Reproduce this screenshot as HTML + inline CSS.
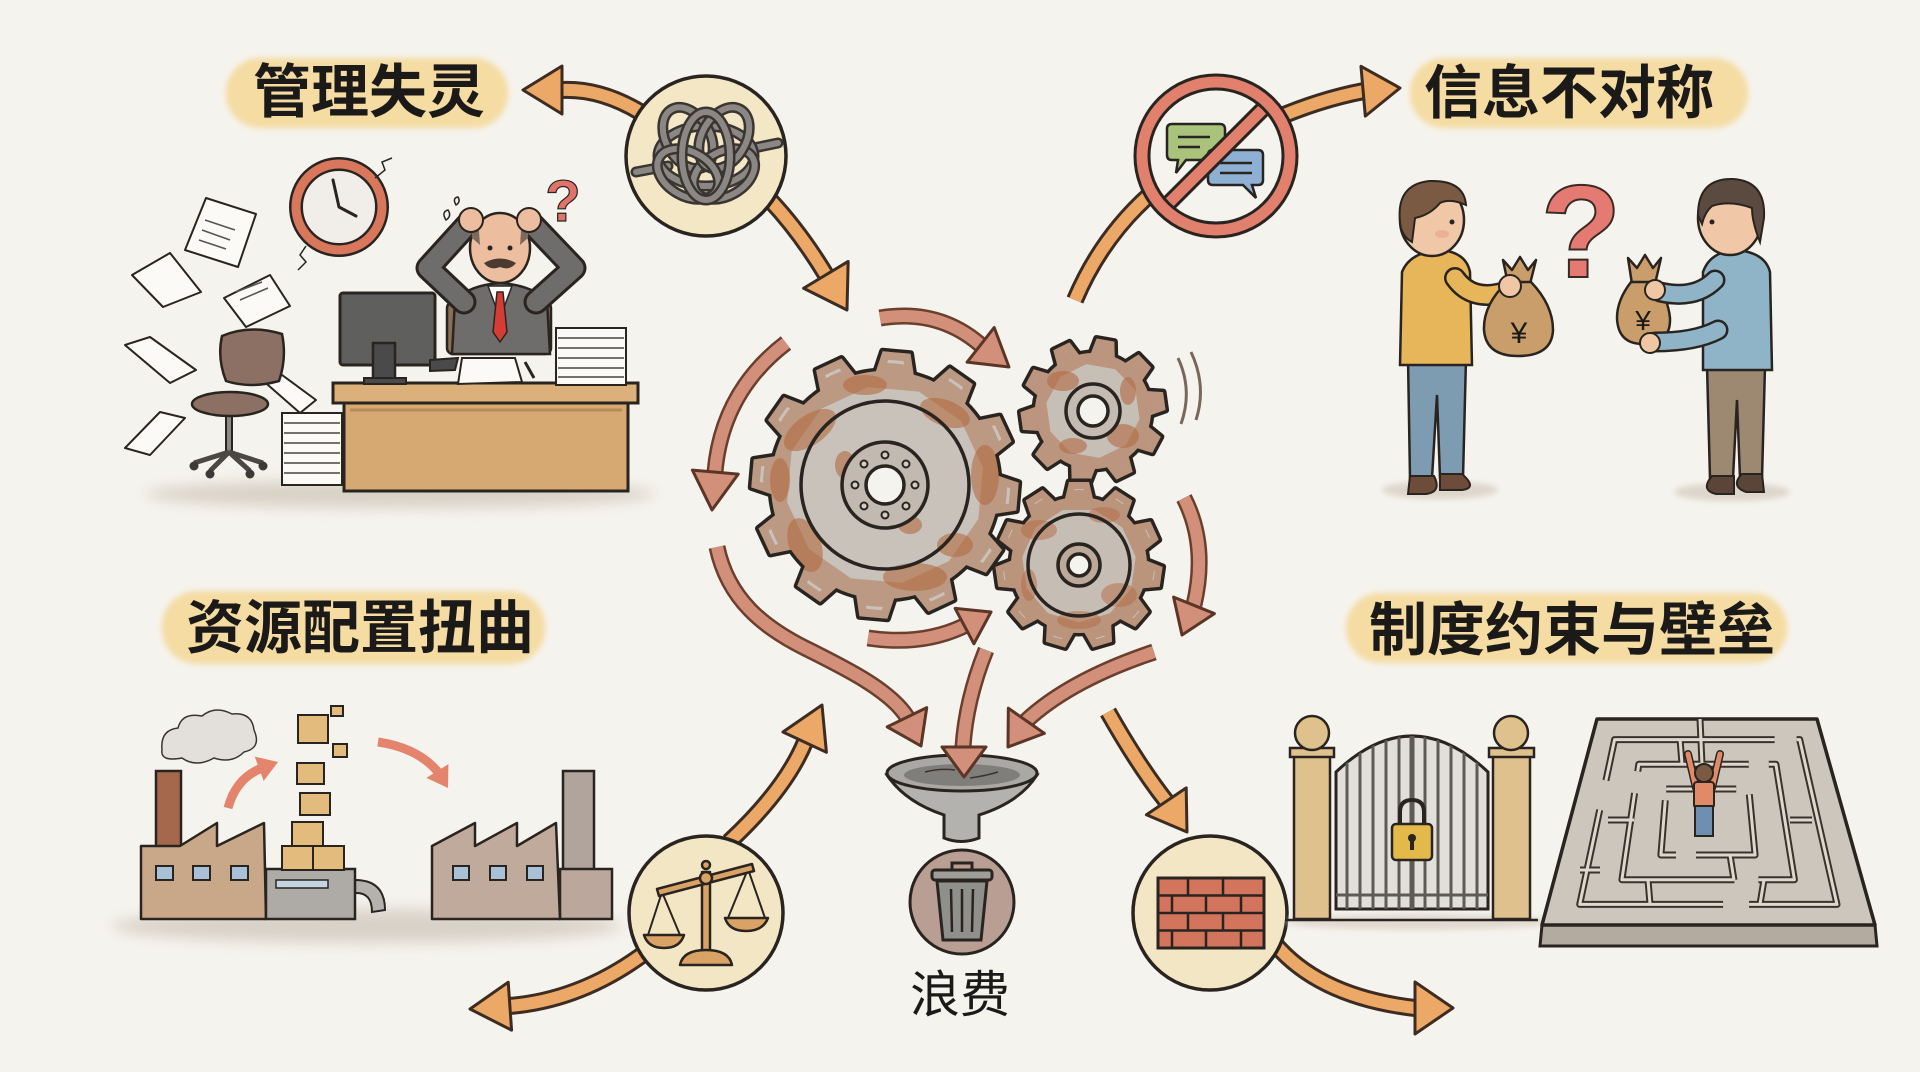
<!DOCTYPE html>
<html><head><meta charset="utf-8"><title>diagram</title>
<style>
html,body{margin:0;padding:0;background:#f5f3ed;overflow:hidden}
svg{display:block}
.t{font-family:"Liberation Sans","Noto Sans CJK SC",sans-serif;font-weight:700;fill:#1b1a18;text-anchor:middle}
</style></head><body>
<svg width="1920" height="1072" viewBox="0 0 1920 1072" xmlns="http://www.w3.org/2000/svg">
<defs>
<filter id="b3" x="-30%" y="-80%" width="160%" height="260%"><feGaussianBlur stdDeviation="3"/></filter>
<filter id="b8" x="-30%" y="-200%" width="160%" height="500%"><feGaussianBlur stdDeviation="7"/></filter>
<path id="tA" d="M-21,-104 L-14,-133 L14,-133 L21,-104 Z"/>
<path id="tB" d="M-13,-52 L-9,-72 L9,-72 L13,-52 Z"/>
<path id="tC" d="M-15,-62 L-10,-83 L10,-83 L15,-62 Z"/>
<g id="gA"><circle r="114"/>
<use href="#tA" transform="rotate(5)"/><use href="#tA" transform="rotate(35)"/><use href="#tA" transform="rotate(65)"/><use href="#tA" transform="rotate(95)"/><use href="#tA" transform="rotate(125)"/><use href="#tA" transform="rotate(155)"/><use href="#tA" transform="rotate(185)"/><use href="#tA" transform="rotate(215)"/><use href="#tA" transform="rotate(245)"/><use href="#tA" transform="rotate(275)"/><use href="#tA" transform="rotate(305)"/><use href="#tA" transform="rotate(335)"/>
</g>
<g id="gB"><circle r="58"/>
<use href="#tB" transform="rotate(10)"/><use href="#tB" transform="rotate(46)"/><use href="#tB" transform="rotate(82)"/><use href="#tB" transform="rotate(118)"/><use href="#tB" transform="rotate(154)"/><use href="#tB" transform="rotate(190)"/><use href="#tB" transform="rotate(226)"/><use href="#tB" transform="rotate(262)"/><use href="#tB" transform="rotate(298)"/><use href="#tB" transform="rotate(334)"/>
</g>
<g id="gC"><circle r="68"/>
<use href="#tC" transform="rotate(0)"/><use href="#tC" transform="rotate(32.7)"/><use href="#tC" transform="rotate(65.5)"/><use href="#tC" transform="rotate(98.2)"/><use href="#tC" transform="rotate(130.9)"/><use href="#tC" transform="rotate(163.6)"/><use href="#tC" transform="rotate(196.4)"/><use href="#tC" transform="rotate(229.1)"/><use href="#tC" transform="rotate(261.8)"/><use href="#tC" transform="rotate(294.5)"/><use href="#tC" transform="rotate(327.3)"/>
</g>
<mask id="mA" maskUnits="userSpaceOnUse" x="-150" y="-150" width="300" height="300"><use href="#gA" fill="#fff"/></mask>
<mask id="mB" maskUnits="userSpaceOnUse" x="-90" y="-90" width="180" height="180"><use href="#gB" fill="#fff"/></mask>
<mask id="mC" maskUnits="userSpaceOnUse" x="-100" y="-100" width="200" height="200"><use href="#gC" fill="#fff"/></mask>
<clipPath id="gateClip"><path d="M1336,909 L1336,772 Q1412,700 1488,772 L1488,909 Z"/></clipPath>
</defs>

<rect width="1920" height="1072" fill="#f5f3ed"/>

<!-- ===== Label pills ===== -->
<g fill="#f4dca3" filter="url(#b3)">
<rect x="226" y="58" width="282" height="70" rx="34"/>
<rect x="1410" y="58" width="338" height="70" rx="34"/>
<rect x="162" y="591" width="383" height="73" rx="35"/>
<rect x="1346" y="593" width="441" height="70" rx="34"/>
</g>
<text class="t" x="369" y="112" font-size="58">管理失灵</text>
<text class="t" x="1569" y="113" font-size="58">信息不对称</text>
<text class="t" x="360" y="648" font-size="58">资源配置扭曲</text>
<text class="t" x="1572" y="650" font-size="58">制度约束与壁垒</text>

<!-- ===== Orange arrows (bands) ===== -->
<g fill="none" stroke-linecap="butt">
<g stroke="#3d2c22" stroke-width="18">
<path d="M640,112 Q600,88 561,90"/>
<path d="M770,200 Q800,232 826,275"/>
<path d="M1075,300 Q1115,205 1210,152 Q1290,105 1364,91"/>
<path d="M729,842 Q785,790 805,742"/>
<path d="M642,955 Q580,1000 510,1006"/>
<path d="M1108,712 Q1138,765 1166,801"/>
<path d="M1275,944 Q1320,997 1415,1008"/>
</g>
<g stroke="#eca866" stroke-width="12">
<path d="M640,112 Q600,88 561,90"/>
<path d="M770,200 Q800,232 826,275"/>
<path d="M1075,300 Q1115,205 1210,152 Q1290,105 1364,91"/>
<path d="M729,842 Q785,790 805,742"/>
<path d="M642,955 Q580,1000 510,1006"/>
<path d="M1108,712 Q1138,765 1166,801"/>
<path d="M1275,944 Q1320,997 1415,1008"/>
</g>
</g>
<g fill="#eca866" stroke="#3d2c22" stroke-width="3" stroke-linejoin="round">
<polygon points="0,0 -39,-24 -39,24" transform="translate(523,90) rotate(180)"/>
<polygon points="0,0 -41,-26 -41,26" transform="translate(847,310) rotate(59)"/>
<polygon points="0,0 -37,-25 -37,25" transform="translate(1400,88) rotate(-5)"/>
<polygon points="0,0 -41,-24 -41,24" transform="translate(822,705) rotate(-65)"/>
<polygon points="0,0 -40,-24 -40,24" transform="translate(470,1009) rotate(176)"/>
<polygon points="0,0 -37,-24 -37,24" transform="translate(1187,832) rotate(56)"/>
<polygon points="0,0 -38,-26 -38,26" transform="translate(1453,1008) rotate(0)"/>
</g>

<!-- ===== Knot circle ===== -->
<circle cx="706" cy="156" r="80" fill="#f3e7c6" stroke="#2a2420" stroke-width="3.5"/>
<g fill="none" stroke-linecap="round">
<path d="M636,172 L668,166" stroke="#3a3530" stroke-width="11"/><path d="M636,172 L668,166" stroke="#8a8784" stroke-width="6"/>
<path d="M744,150 L778,143" stroke="#3a3530" stroke-width="11"/><path d="M744,150 L778,143" stroke="#8a8784" stroke-width="6"/>
<ellipse cx="706" cy="156" rx="48" ry="30" stroke="#3a3530" stroke-width="11"/><ellipse cx="706" cy="156" rx="48" ry="30" stroke="#8a8784" stroke-width="6"/>
<ellipse cx="688" cy="138" rx="22" ry="33" transform="rotate(-30 688 138)" stroke="#3a3530" stroke-width="11"/><ellipse cx="688" cy="138" rx="22" ry="33" transform="rotate(-30 688 138)" stroke="#8a8784" stroke-width="6"/>
<ellipse cx="724" cy="174" rx="33" ry="22" transform="rotate(-30 724 174)" stroke="#3a3530" stroke-width="11"/><ellipse cx="724" cy="174" rx="33" ry="22" transform="rotate(-30 724 174)" stroke="#8a8784" stroke-width="6"/>
<ellipse cx="724" cy="138" rx="22" ry="33" transform="rotate(30 724 138)" stroke="#3a3530" stroke-width="11"/><ellipse cx="724" cy="138" rx="22" ry="33" transform="rotate(30 724 138)" stroke="#8a8784" stroke-width="6"/>
<ellipse cx="688" cy="174" rx="33" ry="22" transform="rotate(30 688 174)" stroke="#3a3530" stroke-width="11"/><ellipse cx="688" cy="174" rx="33" ry="22" transform="rotate(30 688 174)" stroke="#8a8784" stroke-width="6"/>
<ellipse cx="706" cy="156" rx="24" ry="44" stroke="#3a3530" stroke-width="11"/><ellipse cx="706" cy="156" rx="24" ry="44" stroke="#8a8784" stroke-width="6"/>
</g>

<!-- ===== No-communication sign ===== -->
<circle cx="1216" cy="156" r="72" fill="#f5f3ed"/>
<path d="M1172,124 L1220,124 Q1225,124 1225,129 L1225,155 Q1225,160 1220,160 L1186,160 L1176,173 L1178,160 L1172,160 Q1167,160 1167,155 L1167,129 Q1167,124 1172,124 Z" fill="#a9c27c" stroke="#2a2420" stroke-width="2.5"/>
<path d="M1178,137 L1210,137 M1178,147 L1200,147" stroke="#2a2420" stroke-width="2.5"/>
<path d="M1213,150 L1258,150 Q1263,150 1263,155 L1263,180 Q1263,185 1258,185 L1252,185 L1256,198 L1243,185 L1213,185 Q1208,185 1208,180 L1208,155 Q1208,150 1213,150 Z" fill="#8eb0d2" stroke="#2a2420" stroke-width="2.5"/>
<path d="M1220,163 L1252,163 M1220,173 L1252,173" stroke="#2a2420" stroke-width="2.5"/>
<line x1="1266" y1="106" x2="1166" y2="206" stroke="#2a2420" stroke-width="17"/>
<line x1="1266" y1="106" x2="1166" y2="206" stroke="#e2806e" stroke-width="11"/>
<circle cx="1216" cy="156" r="74" fill="none" stroke="#2a2420" stroke-width="17"/>
<circle cx="1216" cy="156" r="74" fill="none" stroke="#e2806e" stroke-width="11"/>

<!-- ===== Gears ===== -->
<g transform="translate(885,485)">
<use href="#gA" fill="#2a2420" stroke="#2a2420" stroke-width="7" stroke-linejoin="round"/>
<use href="#gA" fill="#c8c2ba"/>
<g mask="url(#mA)">
<use href="#gA" fill="none" stroke="#ad6238" stroke-width="16" opacity=".42"/>
<g fill="#b36a42" opacity=".6">
<ellipse cx="-75" cy="-55" rx="30" ry="15" transform="rotate(-35 -75 -55)"/>
<ellipse cx="60" cy="-72" rx="26" ry="13" transform="rotate(20 60 -72)"/>
<ellipse cx="100" cy="-10" rx="14" ry="30"/>
<ellipse cx="-80" cy="60" rx="16" ry="28" transform="rotate(-20 -80 60)"/>
<ellipse cx="30" cy="92" rx="32" ry="14"/>
<ellipse cx="-20" cy="-100" rx="22" ry="10"/>
<ellipse cx="-105" cy="-5" rx="10" ry="22"/>
<ellipse cx="70" cy="60" rx="18" ry="12"/>
<ellipse cx="-40" cy="-20" rx="10" ry="14"/>
<ellipse cx="25" cy="40" rx="12" ry="9"/>
</g>
</g>
<circle r="84" fill="none" stroke="#2a2420" stroke-width="3.5"/>
<circle r="43" fill="#c2bab0" stroke="#2a2420" stroke-width="3.5"/>
<circle r="19" fill="#f5f3ed" stroke="#2a2420" stroke-width="3.5"/>
<g fill="#d3ccc3" stroke="#2a2420" stroke-width="2">
<circle cx="0" cy="-30" r="3.5"/><circle cx="21" cy="-21" r="3.5"/><circle cx="30" cy="0" r="3.5"/><circle cx="21" cy="21" r="3.5"/><circle cx="0" cy="30" r="3.5"/><circle cx="-21" cy="21" r="3.5"/><circle cx="-30" cy="0" r="3.5"/><circle cx="-21" cy="-21" r="3.5"/>
</g>
</g>

<g transform="translate(1093,411)">
<use href="#gB" fill="#2a2420" stroke="#2a2420" stroke-width="7" stroke-linejoin="round"/>
<use href="#gB" fill="#c6bfb6"/>
<g mask="url(#mB)">
<use href="#gB" fill="none" stroke="#ad6238" stroke-width="14" opacity=".45"/>
<g fill="#b36a42" opacity=".6">
<ellipse cx="-30" cy="-30" rx="16" ry="10"/><ellipse cx="30" cy="25" rx="16" ry="12"/><ellipse cx="-20" cy="35" rx="14" ry="8"/><ellipse cx="35" cy="-20" rx="8" ry="14"/>
</g>
</g>
<circle r="27" fill="#c4bcb2" stroke="#2a2420" stroke-width="3.5"/>
<circle r="15" fill="#f5f3ed" stroke="#2a2420" stroke-width="3.5"/>
</g>

<g transform="translate(1079,565)">
<use href="#gC" fill="#2a2420" stroke="#2a2420" stroke-width="7" stroke-linejoin="round"/>
<use href="#gC" fill="#c6beb5"/>
<g mask="url(#mC)">
<use href="#gC" fill="none" stroke="#ad6238" stroke-width="14" opacity=".45"/>
<g fill="#b36a42" opacity=".5">
<ellipse cx="-40" cy="-35" rx="18" ry="10"/><ellipse cx="40" cy="30" rx="18" ry="12"/><ellipse cx="0" cy="55" rx="22" ry="9"/><ellipse cx="-50" cy="20" rx="8" ry="16"/><ellipse cx="25" cy="-50" rx="16" ry="8"/>
</g>
</g>
<circle r="51" fill="none" stroke="#2a2420" stroke-width="3.5"/>
<circle r="21" fill="#bca999" stroke="#2a2420" stroke-width="3.5"/>
<circle r="11" fill="#f5f3ed" stroke="#2a2420" stroke-width="3.5"/>
</g>
<path d="M1178,358 Q1193,390 1181,424 M1191,352 Q1207,386 1196,420" fill="none" stroke="#7b665c" stroke-width="3"/>

<!-- ===== Rust arrows ===== -->
<g fill="none">
<g stroke="#6b3f2e" stroke-width="17">
<path d="M880,318 Q940,308 983,347"/>
<path d="M786,343 Q722,392 715,472"/>
<path d="M1184,498 Q1208,545 1194,605"/>
<path d="M868,638 Q922,646 964,626"/>
<path d="M717,547 C728,600 765,628 805,648 S890,690 907,717"/>
<path d="M1154,652 Q1070,680 1026,721"/>
<path d="M986,650 Q966,700 963,747"/>
</g>
<g stroke="#d2907a" stroke-width="12">
<path d="M880,318 Q940,308 983,347"/>
<path d="M786,343 Q722,392 715,472"/>
<path d="M1184,498 Q1208,545 1194,605"/>
<path d="M868,638 Q922,646 964,626"/>
<path d="M717,547 C728,600 765,628 805,648 S890,690 907,717"/>
<path d="M1154,652 Q1070,680 1026,721"/>
<path d="M986,650 Q966,700 963,747"/>
</g>
</g>

<!-- ===== Funnel ===== -->
<path d="M887,775 Q905,802 944,815 L944,838 Q961,845 979,838 L979,815 Q1020,802 1037,775 Z" fill="#b3b2ae" stroke="#2a2420" stroke-width="3"/>
<ellipse cx="962" cy="773" rx="75" ry="18" fill="#a9a8a4" stroke="#2a2420" stroke-width="3"/>
<ellipse cx="962" cy="775" rx="58" ry="11" fill="#7f7e7b"/>
<path d="M925,772 Q940,768 955,770 M970,778 Q985,776 998,772" stroke="#3a3530" stroke-width="1.5" fill="none"/>

<g fill="#d2907a" stroke="#5b3526" stroke-width="3" stroke-linejoin="round">
<polygon points="0,0 -36,-22 -36,22" transform="translate(1009,367) rotate(38)"/>
<polygon points="0,0 -38,-23 -38,23" transform="translate(712,510) rotate(95)"/>
<polygon points="0,0 -32,-22 -32,22" transform="translate(1182,635) rotate(112)"/>
<polygon points="0,0 -30,-20 -30,20" transform="translate(991,612) rotate(-28)"/>
<polygon points="0,0 -32,-22 -32,22" transform="translate(921,746) rotate(64)"/>
<polygon points="0,0 -32,-22 -32,22" transform="translate(1008,747) rotate(125)"/>
<polygon points="0,0 -30,-22 -30,22" transform="translate(964,777) rotate(90)"/>
</g>

<!-- ===== Trash circle ===== -->
<circle cx="962" cy="902" r="52" fill="#b89e93" stroke="#2a2420" stroke-width="3"/>
<path d="M952,870 L952,863 L972,863 L972,870" fill="none" stroke="#2a2420" stroke-width="3"/>
<path d="M937,881 L987,881 L981,940 L943,940 Z" fill="#8f8f8b" stroke="#2a2420" stroke-width="3"/>
<rect x="932" y="870" width="60" height="10" rx="3" fill="#9e9e9a" stroke="#2a2420" stroke-width="3"/>
<path d="M951,889 L952,932 M962,889 L962,932 M973,889 L972,932" stroke="#2a2420" stroke-width="2.5"/>
<text x="960" y="1012" font-size="50" font-family="Liberation Sans, Noto Sans CJK SC, sans-serif" font-weight="400" fill="#1b1a18" text-anchor="middle">浪费</text>

<!-- ===== Scale circle ===== -->
<circle cx="706" cy="913" r="77" fill="#f3e6c4" stroke="#2a2420" stroke-width="3.5"/>
<g stroke="#2a2420" stroke-width="2" fill="none">
<path d="M662,892 L648,935 M662,892 L680,935 M748,869 L728,918 M748,869 L765,918"/>
</g>
<g fill="#d9a366" stroke="#2a2420" stroke-width="2.5" stroke-linejoin="round">
<rect x="702" y="872" width="8" height="82"/>
<path d="M680,965 Q683,950 706,950 Q729,950 732,965 Z"/>
<polygon points="657,889 752,864 754,871 659,896"/>
<circle cx="706" cy="878" r="6"/>
<circle cx="706" cy="865" r="4"/>
<path d="M644,935 L684,935 Q680,948 664,948 Q648,948 644,935 Z"/>
<path d="M725,918 L768,918 Q763,931 746,931 Q729,931 725,918 Z"/>
</g>

<!-- ===== Brick circle ===== -->
<circle cx="1210" cy="913" r="77" fill="#f3e6c4" stroke="#2a2420" stroke-width="3.5"/>
<rect x="1158" y="878" width="106" height="70" fill="#d3745c" stroke="#2a2420" stroke-width="3"/>
<path d="M1158,895.5 H1264 M1158,913 H1264 M1158,930.5 H1264 M1188,878 V895.5 M1223,878 V895.5 M1172,895.5 V913 M1206,895.5 V913 M1241,895.5 V913 M1188,913 V930.5 M1223,913 V930.5 M1172,930.5 V948 M1206,930.5 V948 M1241,930.5 V948" stroke="#2a2420" stroke-width="2.5" fill="none"/>

<!-- ===== Office scene (top-left) ===== -->
<ellipse cx="400" cy="494" rx="255" ry="14" fill="#d8d1c6" filter="url(#b8)"/>
<g fill="#fbfaf6" stroke="#2a2420" stroke-width="2" stroke-linejoin="round">
<polygon points="206,198 256,214 238,267 185,250"/>
<polygon points="132,275 170,253 201,292 163,307"/>
<polygon points="224,298 270,275 290,306 246,327"/>
<polygon points="125,345 150,337 196,370 170,383"/>
<polygon points="185,418 160,412 125,448 150,455"/>
<polygon points="260,378 278,372 316,400 300,413"/>
</g>
<path d="M205,220 L235,230 M202,230 L230,240 M199,240 L226,249 M236,292 L262,282 M240,300 L268,288" stroke="#555" stroke-width="1.5"/>
<!-- clock -->
<circle cx="339" cy="207" r="43" fill="#f1eee9" stroke="#2a2420" stroke-width="14"/>
<circle cx="339" cy="207" r="43" fill="none" stroke="#d9775d" stroke-width="9"/>
<path d="M339,207 L333,180 M339,207 L356,216" stroke="#2a2420" stroke-width="3" stroke-linecap="round"/>
<path d="M375,178 L385,170 L382,162 L392,158 M306,246 L300,255 L306,262 L298,270" fill="none" stroke="#2a2420" stroke-width="1.5"/>
<!-- chair -->
<path d="M229,414 L229,452" stroke="#2a2420" stroke-width="8"/>
<path d="M229,414 L229,452" stroke="#8a8a88" stroke-width="4"/>
<path d="M229,452 L194,463 M229,452 L263,463 M229,452 L210,471 M229,452 L250,471" stroke="#4a4745" stroke-width="5" fill="none"/>
<g fill="#3c3936"><circle cx="194" cy="466" r="4.5"/><circle cx="263" cy="466" r="4.5"/><circle cx="210" cy="474" r="4.5"/><circle cx="250" cy="474" r="4.5"/></g>
<path d="M222,336 Q250,324 282,334 Q287,358 279,381 Q250,389 226,381 Q217,358 222,336 Z" fill="#8c7064" stroke="#2a2420" stroke-width="2.5"/>
<ellipse cx="230" cy="404" rx="38" ry="12" fill="#8c7064" stroke="#2a2420" stroke-width="2.5"/>
<!-- floor stack -->
<rect x="282" y="413" width="60" height="72" fill="#fbfaf6" stroke="#2a2420" stroke-width="2"/>
<path d="M284,423 H340 M284,433 H340 M284,443 H340 M284,453 H340 M284,463 H340 M284,473 H340" stroke="#444" stroke-width="1.5"/>
<!-- man -->
<rect x="447" y="302" width="104" height="52" rx="6" fill="#8b6e55" stroke="#2a2420" stroke-width="2.5"/>
<path d="M452,354 L455,300 Q470,285 500,283 Q530,285 547,300 L550,354 Z" fill="#6e6d6c" stroke="#2a2420" stroke-width="2.5"/>
<path d="M488,286 L500,318 L512,286 Z" fill="#ffffff" stroke="#2a2420" stroke-width="1.5"/>
<path d="M497,292 L503,292 L507,332 L500,342 L493,332 Z" fill="#d63b35" stroke="#2a2420" stroke-width="1.5"/>
<g fill="none" stroke-linejoin="round" stroke-linecap="round">
<path d="M464,302 L428,268 L468,224" stroke="#2a2420" stroke-width="25"/>
<path d="M536,302 L574,268 L532,224" stroke="#2a2420" stroke-width="25"/>
<path d="M464,302 L428,268 L468,224" stroke="#6e6d6c" stroke-width="19"/>
<path d="M536,302 L574,268 L532,224" stroke="#6e6d6c" stroke-width="19"/>
</g>
<ellipse cx="500" cy="248" rx="30" ry="35" fill="#ecbd9f" stroke="#2a2420" stroke-width="2.5"/>
<path d="M472,238 Q470,222 478,218 L480,245 Z M528,238 Q530,222 522,218 L520,245 Z" fill="#7e6a5c"/>
<path d="M484,263 Q500,254 516,263 Q510,271 500,267 Q490,271 484,263 Z" fill="#4a3a30"/>
<circle cx="490" cy="248" r="2.5" fill="#2a2420"/><circle cx="510" cy="248" r="2.5" fill="#2a2420"/>
<circle cx="471" cy="220" r="12" fill="#ecbd9f" stroke="#2a2420" stroke-width="2"/>
<circle cx="529" cy="220" r="12" fill="#ecbd9f" stroke="#2a2420" stroke-width="2"/>
<path d="M446,220 q-5,-8 2,-10 q4,6 -2,10 Z M456,205 q-4,-7 2,-8 q3,5 -2,8 Z" fill="none" stroke="#2a2420" stroke-width="1.5"/>
<text x="563" y="221" font-size="58" font-family="Liberation Sans, sans-serif" font-weight="700" fill="#e0746b" stroke="#2a2420" stroke-width="1.2" text-anchor="middle">?</text>
<!-- desk -->
<rect x="344" y="403" width="284" height="88" fill="#d6a872" stroke="#2a2420" stroke-width="3"/>
<rect x="333" y="383" width="305" height="20" fill="#dbb07a" stroke="#2a2420" stroke-width="3"/>
<path d="M350,410 H622" stroke="#b98a55" stroke-width="3"/>
<!-- monitor -->
<rect x="340" y="293" width="95" height="72" rx="3" fill="#5f5f5e" stroke="#2a2420" stroke-width="3"/>
<rect x="373" y="343" width="22" height="38" fill="#4a4a4a" stroke="#2a2420" stroke-width="2.5"/>
<rect x="364" y="378" width="42" height="6" fill="#4a4a4a" stroke="#2a2420" stroke-width="2"/>
<path d="M430,360 L458,358 L455,370 L430,371 Z" fill="#4a4a4a" stroke="#2a2420" stroke-width="2"/>
<polygon points="462,358 515,358 522,382 458,384" fill="#fbfaf6" stroke="#2a2420" stroke-width="2"/>
<path d="M525,362 L534,378" stroke="#2a2420" stroke-width="3"/>
<rect x="556" y="328" width="70" height="57" fill="#fbfaf6" stroke="#2a2420" stroke-width="2"/>
<path d="M558,338 H624 M558,348 H624 M558,358 H624 M558,368 H624 M558,377 H624" stroke="#444" stroke-width="1.5"/>

<!-- ===== Two men (top-right) ===== -->
<ellipse cx="1440" cy="490" rx="58" ry="9" fill="#ddd6cb" filter="url(#b3)"/>
<ellipse cx="1732" cy="492" rx="58" ry="9" fill="#ddd6cb" filter="url(#b3)"/>
<!-- left man -->
<path d="M1408,358 L1466,358 L1463,478 L1440,478 L1437,395 L1432,478 L1410,478 Z" fill="#7d9cb2" stroke="#2a2420" stroke-width="2.5"/>
<path d="M1410,476 L1434,476 Q1442,492 1426,494 L1408,494 Z M1440,474 L1462,474 Q1478,488 1462,490 L1440,490 Z" fill="#6d4d3a" stroke="#2a2420" stroke-width="2"/>
<rect x="1424" y="244" width="16" height="12" fill="#f0c8a7" stroke="#2a2420" stroke-width="2"/>
<path d="M1402,272 Q1410,252 1440,250 Q1466,252 1470,272 L1472,365 L1400,365 Z" fill="#e7b55a" stroke="#2a2420" stroke-width="2.5"/>
<path d="M1455,278 Q1472,302 1505,292" fill="none" stroke="#2a2420" stroke-width="22" stroke-linecap="round"/>
<path d="M1455,278 Q1472,302 1505,292" fill="none" stroke="#e7b55a" stroke-width="17" stroke-linecap="round"/>
<path d="M1503,260 L1512,270 L1520,257 L1528,270 L1536,260 L1530,284 L1508,284 Z" fill="#c99e6a" stroke="#2a2420" stroke-width="2.5" stroke-linejoin="round"/>
<path d="M1507,282 Q1483,305 1484,330 Q1486,356 1518,356 Q1552,356 1553,330 Q1553,305 1531,282 Z" fill="#c99e6a" stroke="#2a2420" stroke-width="2.5"/>
<circle cx="1510" cy="286" r="11" fill="#f0c7a5" stroke="#2a2420" stroke-width="2"/>
<text x="1519" y="343" font-size="30" font-family="Liberation Sans, sans-serif" fill="#1b1a18" text-anchor="middle">¥</text>
<ellipse cx="1432" cy="220" rx="32" ry="36" fill="#f0c8a7" stroke="#2a2420" stroke-width="2.5"/>
<path d="M1400,222 Q1396,184 1430,181 Q1464,180 1466,205 Q1450,198 1440,203 Q1430,215 1415,218 L1412,242 Q1401,236 1400,222 Z" fill="#7b5a44" stroke="#2a2420" stroke-width="2"/>
<circle cx="1452" cy="222" r="2.5" fill="#2a2420"/>
<ellipse cx="1442" cy="234" rx="7" ry="4" fill="#e9a08c" opacity=".6"/>
<!-- question mark -->
<text x="1581" y="277" font-size="132" font-family="Liberation Sans, sans-serif" font-weight="700" fill="#e47a72" stroke="#3a2a25" stroke-width="2" text-anchor="middle">?</text>
<!-- right man -->
<path d="M1707,366 L1765,366 L1762,478 L1740,478 L1737,400 L1733,478 L1710,478 Z" fill="#9d8872" stroke="#2a2420" stroke-width="2.5"/>
<path d="M1712,476 L1734,476 L1734,494 L1716,494 Q1700,490 1712,476 Z M1742,474 L1762,474 L1764,492 L1746,492 Q1730,486 1742,474 Z" fill="#5a4538" stroke="#2a2420" stroke-width="2"/>
<rect x="1722" y="244" width="16" height="12" fill="#f0c8a7" stroke="#2a2420" stroke-width="2"/>
<path d="M1703,272 Q1710,252 1735,250 Q1765,252 1770,272 L1772,370 L1703,370 Z" fill="#8fb4c8" stroke="#2a2420" stroke-width="2.5"/>
<path d="M1628,258 L1637,268 L1645,255 L1653,268 L1661,258 L1655,284 L1632,284 Z" fill="#c99e6a" stroke="#2a2420" stroke-width="2.5" stroke-linejoin="round"/>
<path d="M1631,282 Q1617,300 1617,318 Q1618,344 1643,344 Q1671,344 1670,318 Q1668,298 1655,282 Z" fill="#c99e6a" stroke="#2a2420" stroke-width="2.5"/>
<text x="1643" y="330" font-size="28" font-family="Liberation Sans, sans-serif" fill="#1b1a18" text-anchor="middle">¥</text>
<g fill="none" stroke-linecap="round">
<path d="M1715,280 Q1695,300 1660,292" stroke="#2a2420" stroke-width="21"/>
<path d="M1718,330 Q1695,342 1655,342" stroke="#2a2420" stroke-width="21"/>
<path d="M1715,280 Q1695,300 1660,292" stroke="#8fb4c8" stroke-width="16"/>
<path d="M1718,330 Q1695,342 1655,342" stroke="#8fb4c8" stroke-width="16"/>
</g>
<circle cx="1655" cy="290" r="10" fill="#f0c7a5" stroke="#2a2420" stroke-width="2"/>
<circle cx="1650" cy="343" r="10" fill="#f0c7a5" stroke="#2a2420" stroke-width="2"/>
<ellipse cx="1730" cy="218" rx="32" ry="37" fill="#f0c8a7" stroke="#2a2420" stroke-width="2.5"/>
<path d="M1698,215 Q1698,178 1733,179 Q1766,181 1764,218 L1760,242 Q1752,222 1752,208 Q1730,200 1712,206 Q1705,212 1702,224 Z" fill="#5b4a3f" stroke="#2a2420" stroke-width="2"/>
<circle cx="1712" cy="222" r="2.5" fill="#2a2420"/>

<!-- ===== Factories (bottom-left) ===== -->
<ellipse cx="367" cy="926" rx="255" ry="17" fill="#d9d2c8" filter="url(#b8)"/>
<path d="M162,750 Q160,730 178,728 Q182,712 202,716 Q215,705 232,714 Q252,712 254,730 Q262,748 244,752 Q232,764 214,758 Q196,768 182,758 Q160,762 162,750 Z" fill="#e3e0db" stroke="#3a3530" stroke-width="1.5"/>
<rect x="156" y="771" width="25" height="76" fill="#a5684d" stroke="#2a2420" stroke-width="2.5"/>
<path d="M141,919 L141,846 L180,846 L217,823 L217,846 L264,823 L266,919 Z" fill="#c9a88a" stroke="#2a2420" stroke-width="2.5" stroke-linejoin="round"/>
<g fill="#a9c1d6" stroke="#2a2420" stroke-width="2"><rect x="156" y="866" width="17" height="14"/><rect x="193" y="866" width="17" height="14"/><rect x="231" y="866" width="17" height="14"/></g>
<path d="M355,880 Q385,880 385,910 L372,912 Q372,892 355,893 Z" fill="#b4b2ae" stroke="#2a2420" stroke-width="2"/>
<rect x="266" y="869" width="89" height="50" fill="#aeaba6" stroke="#2a2420" stroke-width="2.5"/>
<rect x="276" y="880" width="52" height="8" fill="#c5d4e0" stroke="#2a2420" stroke-width="1.5"/>
<g fill="#e3bb7d" stroke="#2a2420" stroke-width="2">
<rect x="282" y="846" width="31" height="24"/><rect x="313" y="846" width="31" height="24"/><rect x="292" y="822" width="31" height="24"/>
<rect x="300" y="793" width="30" height="22"/><rect x="297" y="763" width="27" height="21"/><rect x="298" y="715" width="30" height="28"/>
<rect x="333" y="744" width="14" height="13"/><rect x="331" y="706" width="12" height="10"/>
</g>
<g fill="none" stroke="#e5846c" stroke-width="9"><path d="M228,808 Q236,778 262,768"/><path d="M378,742 Q418,748 438,772"/></g>
<g fill="#e5846c"><polygon points="0,0 -20,-13 -20,13" transform="translate(278,762) rotate(-20)"/><polygon points="0,0 -20,-13 -20,13" transform="translate(448,788) rotate(58)"/></g>
<rect x="563" y="771" width="31" height="100" fill="#b1a49c" stroke="#2a2420" stroke-width="2.5"/>
<rect x="560" y="869" width="52" height="50" fill="#bba79b" stroke="#2a2420" stroke-width="2.5"/>
<path d="M432,919 L432,846 L475,823 L475,846 L517,823 L517,846 L556,823 L560,919 Z" fill="#c0aa9c" stroke="#2a2420" stroke-width="2.5" stroke-linejoin="round"/>
<g fill="#a9c1d6" stroke="#2a2420" stroke-width="2"><rect x="453" y="866" width="16" height="14"/><rect x="490" y="866" width="16" height="14"/><rect x="527" y="866" width="16" height="14"/></g>

<!-- ===== Gate & maze (bottom-right) ===== -->
<ellipse cx="1420" cy="922" rx="135" ry="8" fill="#e0dad0" filter="url(#b3)"/>
<path d="M1336,909 L1336,772 Q1412,700 1488,772 L1488,909 Z" fill="#e2dfda" stroke="#2a2420" stroke-width="3"/>
<g clip-path="url(#gateClip)" stroke="#5e5b57" stroke-width="3">
<path d="M1347,700 V912 M1360,700 V912 M1373,700 V912 M1386,700 V912 M1399,700 V912 M1425,700 V912 M1438,700 V912 M1451,700 V912 M1464,700 V912 M1477,700 V912"/>
<path d="M1412,700 V912" stroke-width="5"/>
<path d="M1336,760 Q1412,708 1488,760" fill="none"/>
<path d="M1336,895 H1488" />
</g>
<path d="M1400,826 L1400,812 Q1400,800 1412,800 Q1424,800 1424,812 L1424,826" fill="none" stroke="#2a2420" stroke-width="4"/>
<rect x="1392" y="824" width="40" height="36" rx="4" fill="#e4b94b" stroke="#2a2420" stroke-width="2.5"/>
<circle cx="1412" cy="838" r="4" fill="#2a2420"/><rect x="1410" y="838" width="4" height="12" fill="#2a2420"/>
<g fill="#dfc18e" stroke="#2a2420" stroke-width="2.5">
<rect x="1294" y="756" width="36" height="163"/><rect x="1290" y="748" width="44" height="9"/><circle cx="1312" cy="733" r="17"/>
<rect x="1493" y="756" width="37" height="163"/><rect x="1489" y="748" width="45" height="9"/><circle cx="1511" cy="733" r="17"/>
</g>
<path d="M1285,920 H1538" stroke="#2a2420" stroke-width="2.5"/>
<!-- maze -->
<path d="M1542,925 L1875,925 L1877,946 L1540,946 Z" fill="#b3aba0" stroke="#2a2420" stroke-width="3"/>
<path d="M1597,719 L1817,719 L1875,925 L1542,925 Z" fill="#cdc6bc" stroke="#2a2420" stroke-width="3.5" stroke-linejoin="round"/>
<g fill="none" stroke-linejoin="round">
<g stroke="#3a332c" stroke-width="7">
<path d="M1614.6,739.6 L1799.7,739.6 L1837,904.4 L1579.7,904.4 Z" stroke-dasharray="160 22 260 26 240 30"/>
<path d="M1638.8,764.3 L1775.9,764.3 L1794.4,879.7 L1621.9,879.7 Z" stroke-dasharray="110 20 160 24 200 22"/>
<path d="M1666.2,789 L1748.8,789 L1755.1,855 L1660.9,855 Z" stroke-dasharray="70 18 120 20"/>
<path d="M1700,719 L1702,764 M1650,904 L1648,880 M1760,904 L1764,880 M1608,820 L1634,820 M1790,820 L1812,820 M1730,855 L1734,880 M1580,870 L1600,870 M1680,739 L1682,764"/>
</g>
<g stroke="#ddd7ce" stroke-width="3">
<path d="M1614.6,739.6 L1799.7,739.6 L1837,904.4 L1579.7,904.4 Z" stroke-dasharray="160 22 260 26 240 30"/>
<path d="M1638.8,764.3 L1775.9,764.3 L1794.4,879.7 L1621.9,879.7 Z" stroke-dasharray="110 20 160 24 200 22"/>
<path d="M1666.2,789 L1748.8,789 L1755.1,855 L1660.9,855 Z" stroke-dasharray="70 18 120 20"/>
<path d="M1700,719 L1702,764 M1650,904 L1648,880 M1760,904 L1764,880 M1608,820 L1634,820 M1790,820 L1812,820 M1730,855 L1734,880 M1580,870 L1600,870 M1680,739 L1682,764"/>
</g>
</g>
<!-- person in maze -->
<g stroke="#2a2420" stroke-width="2">
<path d="M1696,788 L1688,754 M1712,788 L1720,754" stroke="#2a2420" stroke-width="8" stroke-linecap="round"/>
<path d="M1696,788 L1688,754 M1712,788 L1720,754" stroke="#e08a68" stroke-width="5" stroke-linecap="round"/>
<rect x="1694" y="782" width="20" height="26" rx="3" fill="#e08a68"/>
<rect x="1695" y="806" width="18" height="30" fill="#6f8fb0"/>
<circle cx="1704" cy="773" r="9" fill="#7a5a44"/>
</g>
</svg>
</body></html>
